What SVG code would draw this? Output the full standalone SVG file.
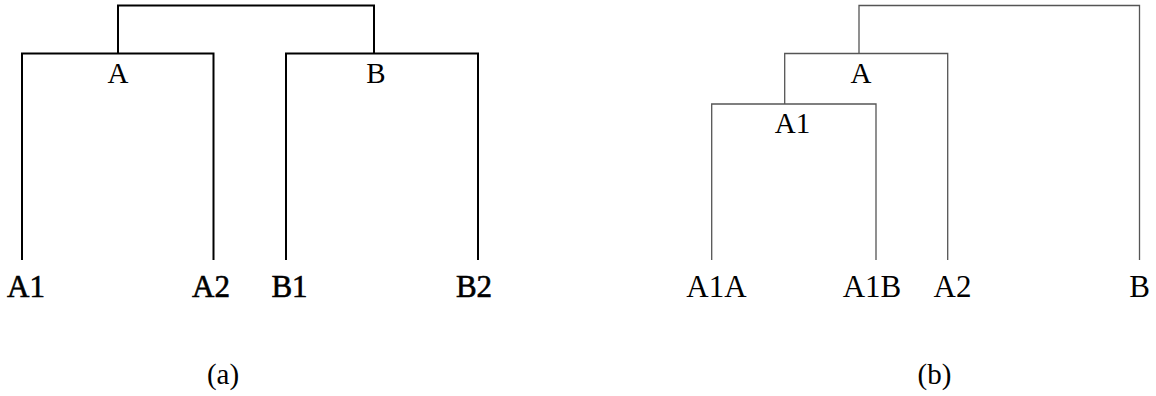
<svg xmlns="http://www.w3.org/2000/svg" width="1156" height="396" viewBox="0 0 1156 396">
<style>
.ea{fill:none;stroke:#000;stroke-width:2}
.eb{fill:none;stroke:#555;stroke-width:1.3}
text{font-family:"Liberation Serif","Times New Roman",serif;fill:#000;text-anchor:middle}
.in{font-size:29px}
.lf{font-size:31px}
.lfa{font-size:31px;stroke:#000;stroke-width:0.6}
.cap{font-size:29px}
</style>
<rect width="1156" height="396" fill="#fff"/>
<g id="connectors">
<path class="ea" d="M118,54 V5.5 H374 V54"/>
<path class="ea" d="M22,260 V53.5 H213.5 V260"/>
<path class="ea" d="M286,260 V53.5 H478 V260"/>
<path class="eb" d="M859,54 V5.5 H1139.5 V260"/>
<path class="eb" d="M784.7,104 V53.5 H947.7 V260"/>
<path class="eb" d="M711.7,260 V104 H876 V260"/>
</g>
<g id="a-A"><text class="in" x="118" y="83">A</text></g>
<g id="a-B"><text class="in" x="376" y="83">B</text></g>
<g id="a-A1"><text class="lfa" x="26" y="296.5">A1</text></g>
<g id="a-A2"><text class="lfa" x="211" y="296.5">A2</text></g>
<g id="a-B1"><text class="lfa" x="289.5" y="296.5">B1</text></g>
<g id="a-B2"><text class="lfa" x="474" y="296.5">B2</text></g>
<g id="b-A"><text class="in" x="861" y="83">A</text></g>
<g id="b-A1"><text class="in" x="792.5" y="132.5">A1</text></g>
<g id="b-A1A"><text class="lf" x="716.5" y="296.5">A1A</text></g>
<g id="b-A1B"><text class="lf" x="872" y="296.5">A1B</text></g>
<g id="b-A2"><text class="lf" x="952.5" y="296.5">A2</text></g>
<g id="b-B"><text class="lf" x="1139.5" y="296.5">B</text></g>
<g id="captions">
<text class="cap" x="223" y="384">(a)</text>
<text class="cap" x="934.5" y="384">(b)</text>
</g>
</svg>
